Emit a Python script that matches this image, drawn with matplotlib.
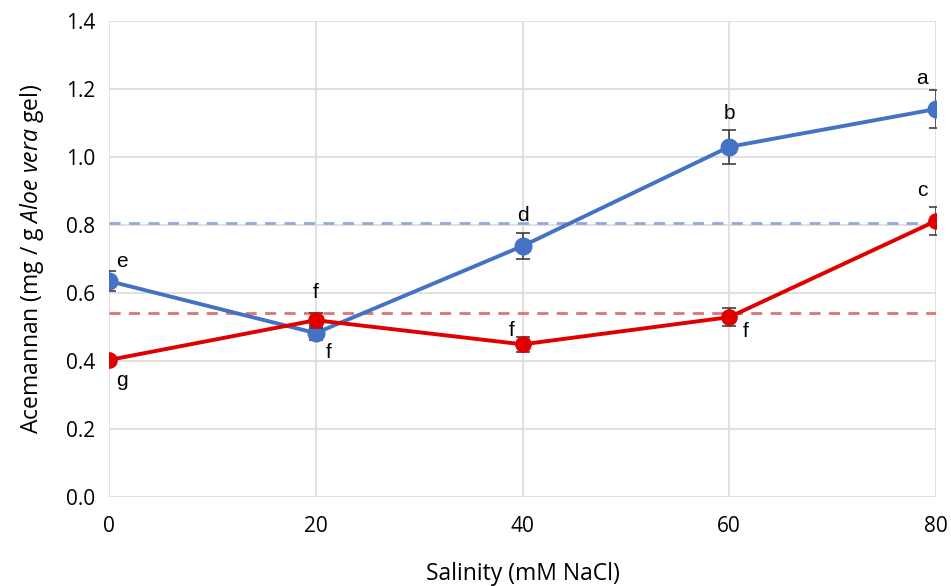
import matplotlib
matplotlib.use("Agg")
import matplotlib.pyplot as plt

plt.rcParams["font.family"] = ["Open Sans", "DejaVu Sans"]
plt.rcParams["mathtext.fontset"] = "custom"
plt.rcParams["mathtext.it"] = "Open Sans:italic"
plt.rcParams["mathtext.rm"] = "Open Sans"

# data
salinity = [0, 20, 40, 60, 80]
blue_vals = [0.635, 0.482, 0.738, 1.030, 1.141]
blue_err = [0.030, 0.020, 0.038, 0.050, 0.057]
blue_letters = ["e", "f", "d", "b", "a"]
red_vals = [0.403, 0.520, 0.449, 0.529, 0.812]
red_err = [0.012, 0.022, 0.022, 0.027, 0.042]
red_letters = ["g", "f", "f", "f", "c"]
blue_mean = 0.806
red_mean = 0.541

BLUE, RED = "#4472C4", "#E00000"
BLUE_D, RED_D = "#8FAADC", "#E07373"
GRID = "#DCDCDC"

fig = plt.figure(figsize=(9.51, 5.86), dpi=100)
ax = fig.add_axes([109 / 951, 89 / 586, 827 / 951, 476 / 586])

ax.axhline(blue_mean, color=BLUE_D, lw=2, ls=(0, (4, 3)), zorder=2)
ax.axhline(red_mean, color=RED_D, lw=2, ls=(0, (4, 3)), zorder=2)

ax.errorbar(salinity, blue_vals, yerr=blue_err, color=BLUE, lw=2.8, marker="o",
            ms=12, ecolor="#404040", elinewidth=1.2, capsize=5, capthick=1.2, zorder=4)
ax.errorbar(salinity, red_vals, yerr=red_err, color=RED, lw=2.8, marker="o",
            ms=11, ecolor="#404040", elinewidth=1.2, capsize=5, capthick=1.2, zorder=5)

# letter offsets in points (dx, dy)
blue_off = [(9, 14), (9, -14), (0, 22), (0, 24), (-10, 22)]
red_off = [(9, -15), (0, 20), (-8, 10), (12, -10), (-10, 22)]
for x, y, t, (dx, dy) in zip(salinity, blue_vals, blue_letters, blue_off):
    ax.annotate(t, (x, y), xytext=(dx, dy), textcoords="offset points",
                ha="center", va="center", fontsize=15, family="Liberation Sans", zorder=6)
for x, y, t, (dx, dy) in zip(salinity, red_vals, red_letters, red_off):
    ax.annotate(t, (x, y), xytext=(dx, dy), textcoords="offset points",
                ha="center", va="center", fontsize=15, family="Liberation Sans", zorder=6)

ax.set_xlim(0, 80)
ax.set_ylim(0, 1.4)
ax.set_xticks(salinity)
ax.set_yticks([0, 0.2, 0.4, 0.6, 0.8, 1.0, 1.2, 1.4])
ax.set_yticklabels([f"{v:.1f}" for v in [0, 0.2, 0.4, 0.6, 0.8, 1.0, 1.2, 1.4]])
ax.grid(True, color=GRID, lw=1.2, zorder=0)
ax.set_axisbelow(True)
for s in ax.spines.values():
    s.set_visible(False)
ax.tick_params(length=0, labelsize=15, pad=10)
ax.tick_params(axis="x", pad=14)

ax.set_xlabel("Salinity (mM NaCl)", fontsize=16.5, labelpad=18)
ax.set_ylabel(r"Acemannan (mg / g $Aloe\ vera$ gel)", fontsize=16.5, labelpad=14)

fig.savefig("out.png", dpi=100, facecolor="white")
